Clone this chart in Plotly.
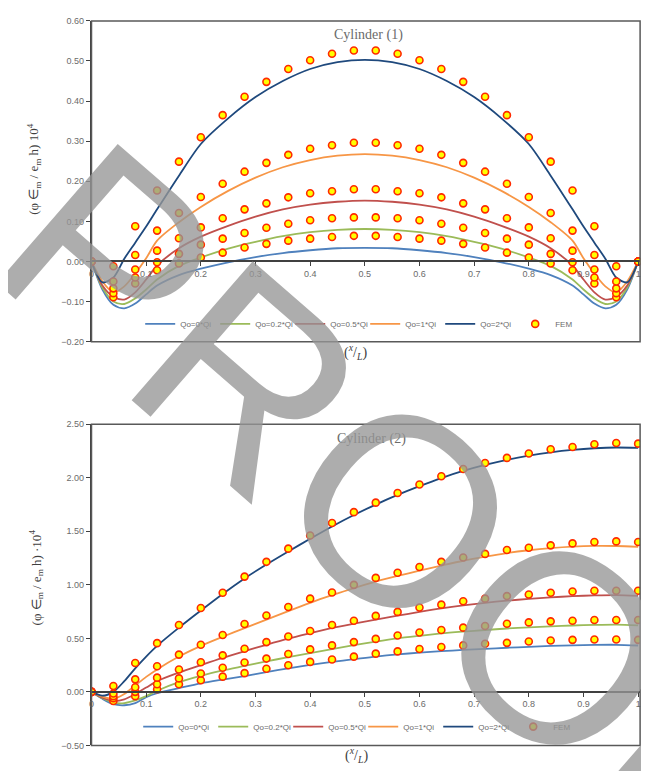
import plotly.graph_objects as go

# ---------------- data ----------------
x_fem = [0.00, 0.04, 0.08, 0.12, 0.16, 0.20, 0.24, 0.28, 0.32, 0.36, 0.40, 0.44, 0.48,
         0.52, 0.56, 0.60, 0.64, 0.68, 0.72, 0.76, 0.80, 0.84, 0.88, 0.92, 0.96, 1.00]

series_names = ["Qo=0*Qi", "Qo=0.2*Qi", "Qo=0.5*Qi", "Qo=1*Qi", "Qo=2*Qi"]
series_colors = ["#4F81BD", "#9BBB59", "#C0504D", "#F79646", "#1F497D"]

# Cylinder (1) analytical curves
x_line1 = [0.00, 0.02, 0.04, 0.06, 0.08, 0.10, 0.12, 0.16, 0.20, 0.25, 0.30, 0.35, 0.40, 0.45, 0.50,
           0.55, 0.60, 0.65, 0.70, 0.75, 0.80, 0.84, 0.88, 0.90, 0.92, 0.94, 0.96, 0.98, 1.00]
c1_q0 = [0, -0.070, -0.108, -0.117, -0.105, -0.082, -0.060, -0.034, -0.018, -0.002, 0.011, 0.021, 0.028, 0.033, 0.034,
         0.033, 0.028, 0.021, 0.011, -0.002, -0.018, -0.034, -0.060, -0.082, -0.105, -0.117, -0.108, -0.070, 0]
c1_q02 = [0, -0.065, -0.100, -0.106, -0.092, -0.070, -0.045, -0.011, 0.010, 0.032, 0.049, 0.063, 0.073, 0.079, 0.081,
          0.079, 0.073, 0.063, 0.049, 0.032, 0.010, -0.011, -0.045, -0.070, -0.092, -0.106, -0.100, -0.065, 0]
c1_q05 = [0, -0.060, -0.088, -0.095, -0.077, -0.045, -0.010, 0.033, 0.062, 0.089, 0.112, 0.130, 0.142, 0.149, 0.152,
          0.149, 0.142, 0.130, 0.112, 0.089, 0.062, 0.033, -0.010, -0.045, -0.077, -0.095, -0.088, -0.060, 0]
c1_q1 = [0, -0.050, -0.077, -0.062, -0.030, 0.008, 0.052, 0.098, 0.136, 0.176, 0.209, 0.235, 0.253, 0.264, 0.268,
         0.264, 0.253, 0.235, 0.209, 0.176, 0.136, 0.098, 0.052, 0.008, -0.030, -0.062, -0.077, -0.050, 0]
c1_q2 = [0, -0.052, -0.040, 0.007, 0.047, 0.087, 0.130, 0.214, 0.293, 0.357, 0.410, 0.450, 0.480, 0.497, 0.503,
         0.497, 0.480, 0.450, 0.410, 0.357, 0.293, 0.214, 0.130, 0.087, 0.047, 0.007, -0.040, -0.052, 0]

# Cylinder (1) FEM points
f1_q0 = [0, -0.089, -0.055, -0.022, -0.005, 0.010, 0.022, 0.035, 0.044, 0.052, 0.057, 0.061, 0.064,
         0.064, 0.061, 0.057, 0.052, 0.044, 0.035, 0.022, 0.010, -0.005, -0.022, -0.055, -0.089, 0]
f1_q02 = [0, -0.079, -0.040, -0.002, 0.019, 0.042, 0.057, 0.071, 0.084, 0.094, 0.103, 0.108, 0.110,
          0.110, 0.108, 0.103, 0.094, 0.084, 0.071, 0.057, 0.042, 0.019, -0.002, -0.040, -0.079, 0]
f1_q05 = [0, -0.067, -0.020, 0.027, 0.058, 0.085, 0.108, 0.130, 0.145, 0.160, 0.170, 0.175, 0.180,
          0.180, 0.175, 0.170, 0.160, 0.145, 0.130, 0.108, 0.085, 0.058, 0.027, -0.020, -0.067, 0]
f1_q1 = [0, -0.050, 0.016, 0.077, 0.121, 0.161, 0.194, 0.224, 0.246, 0.266, 0.281, 0.290, 0.296,
         0.296, 0.290, 0.281, 0.266, 0.246, 0.224, 0.194, 0.161, 0.121, 0.077, 0.016, -0.050, 0]
f1_q2 = [0, -0.012, 0.088, 0.177, 0.249, 0.310, 0.365, 0.411, 0.448, 0.480, 0.502, 0.518, 0.526,
         0.526, 0.518, 0.502, 0.480, 0.448, 0.411, 0.365, 0.310, 0.249, 0.177, 0.088, -0.012, 0]

# Cylinder (2) analytical curves
x_line2 = [0.00, 0.02, 0.04, 0.06, 0.08, 0.10, 0.12, 0.16, 0.20, 0.24, 0.28, 0.32, 0.36, 0.40, 0.44,
           0.48, 0.52, 0.56, 0.60, 0.64, 0.68, 0.72, 0.76, 0.80, 0.84, 0.88, 0.92, 0.96, 1.00]
c2_q0 = [0, -0.065, -0.115, -0.125, -0.105, -0.050, -0.012, 0.035, 0.080, 0.115, 0.148, 0.185, 0.220, 0.252, 0.280,
         0.305, 0.330, 0.350, 0.366, 0.380, 0.392, 0.402, 0.412, 0.421, 0.429, 0.435, 0.439, 0.440, 0.433]
c2_q02 = [0, -0.060, -0.100, -0.105, -0.080, -0.040, 0.010, 0.090, 0.150, 0.200, 0.242, 0.284, 0.325, 0.363, 0.400,
          0.437, 0.470, 0.500, 0.524, 0.546, 0.563, 0.578, 0.592, 0.603, 0.612, 0.620, 0.626, 0.629, 0.622]
c2_q05 = [0, -0.055, -0.085, -0.070, -0.020, 0.040, 0.100, 0.180, 0.250, 0.318, 0.380, 0.440, 0.497, 0.548, 0.597,
          0.637, 0.675, 0.712, 0.747, 0.780, 0.808, 0.832, 0.852, 0.869, 0.883, 0.894, 0.901, 0.904, 0.897]
c2_q1 = [0, -0.045, -0.065, -0.020, 0.060, 0.140, 0.210, 0.330, 0.430, 0.515, 0.595, 0.675, 0.755, 0.832, 0.903,
         0.970, 1.030, 1.083, 1.133, 1.180, 1.225, 1.263, 1.297, 1.323, 1.343, 1.357, 1.364, 1.363, 1.355]
c2_q2 = [0, -0.035, 0.000, 0.100, 0.220, 0.330, 0.430, 0.600, 0.760, 0.915, 1.060, 1.190, 1.312, 1.430, 1.545,
         1.652, 1.750, 1.840, 1.922, 1.998, 2.064, 2.120, 2.168, 2.207, 2.238, 2.261, 2.276, 2.283, 2.279]

# Cylinder (2) FEM points
f2_q0 = [0, -0.085, -0.040, 0.025, 0.071, 0.108, 0.142, 0.175, 0.216, 0.249, 0.280, 0.302, 0.329,
         0.357, 0.378, 0.400, 0.419, 0.434, 0.449, 0.458, 0.470, 0.480, 0.486, 0.489, 0.489, 0.486]
f2_q02 = [0, -0.060, 0.000, 0.071, 0.126, 0.172, 0.225, 0.274, 0.311, 0.354, 0.397, 0.434, 0.465,
          0.495, 0.526, 0.554, 0.578, 0.600, 0.615, 0.637, 0.649, 0.659, 0.664, 0.671, 0.671, 0.671]
f2_q05 = [0, -0.040, 0.043, 0.133, 0.209, 0.277, 0.341, 0.403, 0.465, 0.517, 0.569, 0.625, 0.664,
          0.710, 0.747, 0.788, 0.815, 0.846, 0.871, 0.895, 0.910, 0.926, 0.938, 0.945, 0.945, 0.945]
f2_q1 = [0, -0.015, 0.117, 0.240, 0.348, 0.440, 0.532, 0.634, 0.714, 0.793, 0.871, 0.929, 1.000,
         1.065, 1.113, 1.166, 1.215, 1.255, 1.289, 1.326, 1.347, 1.369, 1.387, 1.400, 1.406, 1.400]
f2_q2 = [0, 0.055, 0.270, 0.455, 0.625, 0.784, 0.926, 1.077, 1.215, 1.338, 1.461, 1.578, 1.679,
         1.768, 1.858, 1.937, 2.015, 2.082, 2.138, 2.186, 2.227, 2.267, 2.288, 2.313, 2.325, 2.319]

x_tickvals = [0, 0.1, 0.2, 0.3, 0.4, 0.5, 0.6, 0.7, 0.8, 0.9, 1.0]
x_ticktext = ["0", "0.1", "0.2", "0.3", "0.4", "0.5", "0.6", "0.7", "0.8", "0.9", "1"]
y1_tickvals = [-0.2, -0.1, 0.0, 0.1, 0.2, 0.3, 0.4, 0.5, 0.6]
y2_tickvals = [-0.5, 0.0, 0.5, 1.0, 1.5, 2.0, 2.5]

# ---------------- figure ----------------
W, H = 649, 771
xdom = [81 / W, 633 / W]
y1dom = [1 - 333 / H, 1 - 8 / H]
y2dom = [1 - 742 / H, 1 - 416.7 / H]
y1rng = [-0.2, 0.6]
y2rng = [-0.5, 2.5]

def zero_pos(dom, rng):
    return dom[0] + (0 - rng[0]) / (rng[1] - rng[0]) * (dom[1] - dom[0])

fig = go.Figure()

marker_style = dict(size=7, color="#FFFF00", line=dict(color="#FF2A00", width=1.6))

for (curves, fems, xa, ya, lg) in [
    ([c1_q0, c1_q02, c1_q05, c1_q1, c1_q2], [f1_q0, f1_q02, f1_q05, f1_q1, f1_q2], "x", "y", "legend"),
    ([c2_q0, c2_q02, c2_q05, c2_q1, c2_q2], [f2_q0, f2_q02, f2_q05, f2_q1, f2_q2], "x2", "y2", "legend2"),
]:
    xl = x_line1 if xa == "x" else x_line2
    for name, col, yv in zip(series_names, series_colors, curves):
        fig.add_trace(go.Scatter(x=xl, y=yv, mode="lines", name=name,
                                 line=dict(color=col, width=1.8, shape="spline", smoothing=0.8),
                                 xaxis=xa, yaxis=ya, legend=lg))
    for i, yv in enumerate(fems):
        fig.add_trace(go.Scatter(x=x_fem, y=yv, mode="markers", name="FEM",
                                 marker=marker_style, showlegend=(i == 0),
                                 xaxis=xa, yaxis=ya, legend=lg))

tickfont = dict(family="Liberation Sans, Arial, sans-serif", size=9, color="#6b6b6b")
axcol = "#404040"

def xaxis_def(pos):
    return dict(domain=xdom, range=[0, 1.0036], anchor="free", position=pos,
                showline=True, linecolor=axcol, linewidth=1.5,
                ticks="outside", ticklen=4, tickcolor=axcol, tickwidth=1,
                tickvals=x_tickvals, ticktext=x_ticktext, tickfont=tickfont,
                showgrid=False, zeroline=False, fixedrange=True)

def yaxis_def(dom, rng, tv, anchor_x):
    return dict(domain=dom, range=rng, anchor=anchor_x,
                showline=True, linecolor=axcol, linewidth=1.5,
                ticks="outside", ticklen=4, tickcolor=axcol, tickwidth=1,
                tickvals=tv, tickformat=".2f", tickfont=tickfont,
                showgrid=False, zeroline=False, fixedrange=True)

legend_common = dict(orientation="h", xanchor="left", yanchor="middle",
                     font=dict(family="Liberation Sans, Arial, sans-serif", size=8, color="#6b6b6b"),
                     bgcolor="rgba(0,0,0,0)", itemwidth=30, tracegroupgap=0,
                     entrywidth=30, entrywidthmode="pixels")

fig.update_layout(
    width=W, height=H,
    margin=dict(l=0, r=0, t=0, b=0),
    paper_bgcolor="white", plot_bgcolor="white",
    xaxis=xaxis_def(zero_pos(y1dom, y1rng)),
    yaxis=yaxis_def(y1dom, y1rng, y1_tickvals, "x"),
    xaxis2=xaxis_def(zero_pos(y2dom, y2rng)),
    yaxis2=yaxis_def(y2dom, y2rng, y2_tickvals, "x2"),
    legend=dict(x=130 / W, y=1 - 315 / H, **legend_common),
    legend2=dict(x=128 / W, y=1 - 723 / H, **legend_common),
    showlegend=True,
)

# plot-area borders
for xr, yr in [("x", "y"), ("x2", "y2")]:
    fig.add_shape(type="rect", xref=f"{xr} domain", yref=f"{yr} domain",
                  x0=0, x1=1, y0=0, y1=1, line=dict(color="#595959", width=1.5))

serif = "Liberation Serif, Times New Roman, serif"
ann = [
    dict(text="Cylinder (1)", x=360 / W, y=1 - 22 / H, font=dict(family=serif, size=14, color="#6b6b6b")),
    dict(text="Cylinder (2)", x=363 / W, y=1 - 432 / H, font=dict(family=serif, size=14, color="#6b6b6b")),
    dict(text="(<sup><i>x</i></sup>/<sub><i>L</i></sub>)", x=347 / W, y=1 - 343 / H,
         font=dict(family=serif, size=14, color="#404040")),
    dict(text="(<sup><i>x</i></sup>/<sub><i>L</i></sub>)", x=348 / W, y=1 - 752 / H,
         font=dict(family=serif, size=14, color="#404040")),
    dict(text="(φ ∈<sub>m</sub> / e<sub>m</sub> h) 10<sup>4</sup>", x=23 / W, y=1 - 158 / H, textangle=-90,
         font=dict(family=serif, size=13, color="#404040")),
    dict(text="(φ ∈<sub>m</sub> / e<sub>m</sub> h) ·10<sup>4</sup>", x=25 / W, y=1 - 572 / H, textangle=-90,
         font=dict(family=serif, size=13, color="#404040")),
    dict(text="PROOF", x=392 / W, y=1 - 505 / H, textangle=41,
         font=dict(family="Liberation Sans, Arial, sans-serif", size=268, color="rgba(150,150,150,0.78)")),
]
for a in ann:
    fig.add_annotation(xref="paper", yref="paper", showarrow=False, xanchor="center", yanchor="middle", **a)

fig.write_html("out.html")
